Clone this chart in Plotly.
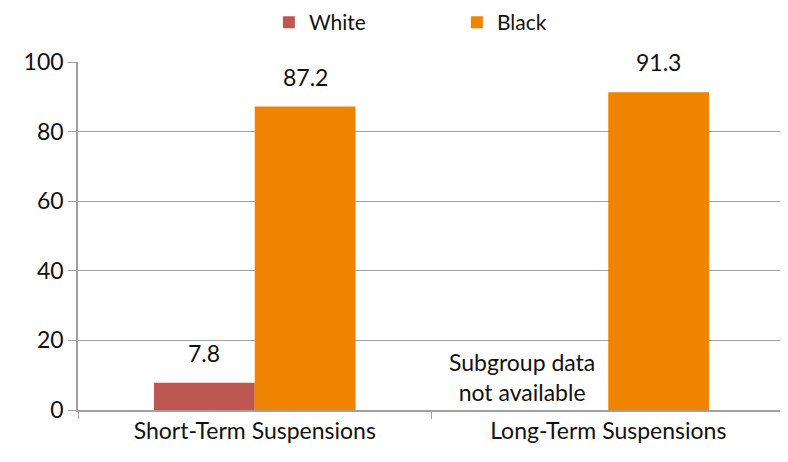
import plotly.graph_objects as go

categories = ["Short-Term Suspensions", "Long-Term Suspensions"]
white_vals = [7.8, None]
black_vals = [87.2, 91.3]
y_ticks = [0, 20, 40, 60, 80, 100]
note_text = "Subgroup data<br>not available"

FONT = "Lato"
FS = 23
TXT = "#111111"
fig = go.Figure()
fig.add_trace(go.Bar(
    name="White", x=categories, y=white_vals,
    marker=dict(color="#BE5652", line=dict(width=0)),
))
fig.add_trace(go.Bar(
    name="Black", x=categories, y=black_vals,
    marker=dict(color="#F08300", line=dict(width=0)),
))

# value labels above bars (centre of each bar within its group)
offsets = {"White": -0.1425, "Black": 0.1425}
for name, vals in (("White", white_vals), ("Black", black_vals)):
    for i, v in enumerate(vals):
        if v is None:
            continue
        fig.add_annotation(
            x=i + offsets[name], y=v, xref="x", yref="y", text=f"{v}", showarrow=False,
            yanchor="bottom", yshift=14, font=dict(size=FS, color=TXT, family=FONT),
        )

fig.add_annotation(
    x=0.755, y=0, xref="x", yref="y", text=note_text, showarrow=False,
    yanchor="bottom", yshift=2, align="center",
    font=dict(size=FS, color=TXT, family=FONT),
)

fig.update_layout(
    width=780, height=454,
    margin=dict(l=70, r=3, t=54, b=52, autoexpand=False),
    paper_bgcolor="white", plot_bgcolor="white",
    barmode="group", bargap=0.43, bargroupgap=0,
    font=dict(family=FONT, size=FS, color=TXT),
    legend=dict(orientation="h", x=0.27, xanchor="left", y=1.172, yanchor="top",
                font=dict(size=21, family=FONT), entrywidth=143,
                traceorder="normal", bgcolor="rgba(0,0,0,0)"),
)
fig.update_xaxes(
    type="category", showline=True, linecolor="#A0A0A0", linewidth=1.5,
    ticks="outside", tickson="boundaries", ticklen=7, tickcolor="#A0A0A0",
    showgrid=False, tickfont=dict(size=FS, family=FONT), range=[-0.5, 1.5],
)
fig.update_yaxes(
    range=[0, 100], tickvals=y_ticks, showline=True, linecolor="#A0A0A0", linewidth=1.5,
    ticks="outside", ticklen=8, tickcolor="#A0A0A0",
    showgrid=True, gridcolor="#A0A0A0", gridwidth=1.2, zeroline=False,
    tickfont=dict(size=FS, family=FONT),
)

fig.write_html("out.html")
